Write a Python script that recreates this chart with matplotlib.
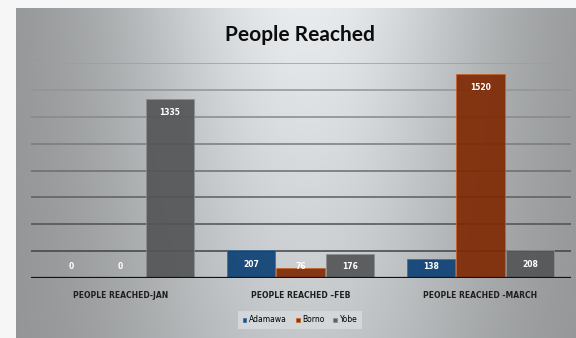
import numpy as np
import matplotlib
matplotlib.use("Agg")
import matplotlib.pyplot as plt

# data
categories = ["PEOPLE REACHED-JAN", "PEOPLE REACHED \u2013FEB", "PEOPLE REACHED -MARCH"]
adamawa = [0, 207, 138]
borno = [0, 76, 1520]
yobe = [1335, 176, 208]

series_names = ["Adamawa", "Borno", "Yobe"]
bar_colors = ["#0d4174", "#7f2a04", "#535557"]
edge_colors = ["#3f6f9f", "#c8642a", "#8c8e90"]

fig = plt.figure(figsize=(5.76, 3.38), dpi=100)
fig.patch.set_facecolor("#f6f6f6")

# gray slide panel with a soft light spot round the title
bg = fig.add_axes([16 / 576, 0, 1 - 16 / 576, 330 / 338], zorder=-10)
xx, yy = np.meshgrid(np.linspace(0, 1, 300), np.linspace(1, 0, 180))
v = 0.57 + 0.36 * np.exp(-((xx - 0.52) / 0.34) ** 2) * (0.6 + 0.4 * yy)
img = np.dstack([v * 0.98, v * 0.995, v * 1.005]).clip(0, 1)
bg.imshow(img, aspect="auto", extent=[0, 1, 0, 1], interpolation="bilinear")
bg.axis("off")

ax = fig.add_axes([30.5 / 576, 60 / 338, 540 / 576, 214.7 / 338])
ax.set_facecolor("none")

x = np.arange(len(categories))
w = 0.272
step = 0.275
for i, vals in enumerate([adamawa, borno, yobe]):
    pos = x + (i - 1) * step
    ax.bar(pos, vals, width=w, color=bar_colors[i], edgecolor=edge_colors[i],
           linewidth=0.6, alpha=0.92, zorder=3, label=series_names[i])
    for p, val in zip(pos, vals):
        ax.text(p, max(val - 104, 86), str(val), ha="center", va="center",
                color="white", fontsize=5.5, fontweight="bold", zorder=5)

ax.set_xlim(-0.5, 2.5)
ax.set_ylim(0, 1600)
ax.set_yticks(range(0, 1601, 200))
ax.set_yticklabels([])
ax.yaxis.grid(True, zorder=1)
ax.set_axisbelow(True)
# gridlines get darker toward the bottom
grid_shades = ["#000000", "#404244", "#4e5052", "#5c5e60", "#6a6c6e",
               "#787a7d", "#86888b", "#929497", "#9c9ea1"]
for gl, c in zip(ax.get_ygridlines(), grid_shades):
    gl.set_color(c)
    gl.set_linewidth(1.1)
ax.axhline(0, color="#111111", linewidth=1.6, zorder=4)

ax.set_xticks(x)
ax.set_xticklabels(categories, fontsize=5.5, fontweight="bold", color="#1e1e1e")
ax.tick_params(axis="both", length=0)
ax.tick_params(axis="x", pad=9)
for s in ax.spines.values():
    s.set_visible(False)

fig.text(0.52, 1 - 35 / 338, "People Reached", ha="center", va="center",
         fontsize=15, fontweight="bold", family=["Lato", "DejaVu Sans"], color="#0c0c0c")

handles, labels = ax.get_legend_handles_labels()
leg = fig.legend(handles, labels, loc="center", bbox_to_anchor=(300 / 576, 1 - 320 / 338),
                 ncol=3, fontsize=5.5, frameon=True, facecolor="#d4d7d9", edgecolor="none",
                 handlelength=0.5, handleheight=0.5, handletextpad=0.3, columnspacing=1.2,
                 borderpad=0.6, fancybox=False)
leg.get_frame().set_alpha(1)

fig.savefig("out.png", dpi=100)
